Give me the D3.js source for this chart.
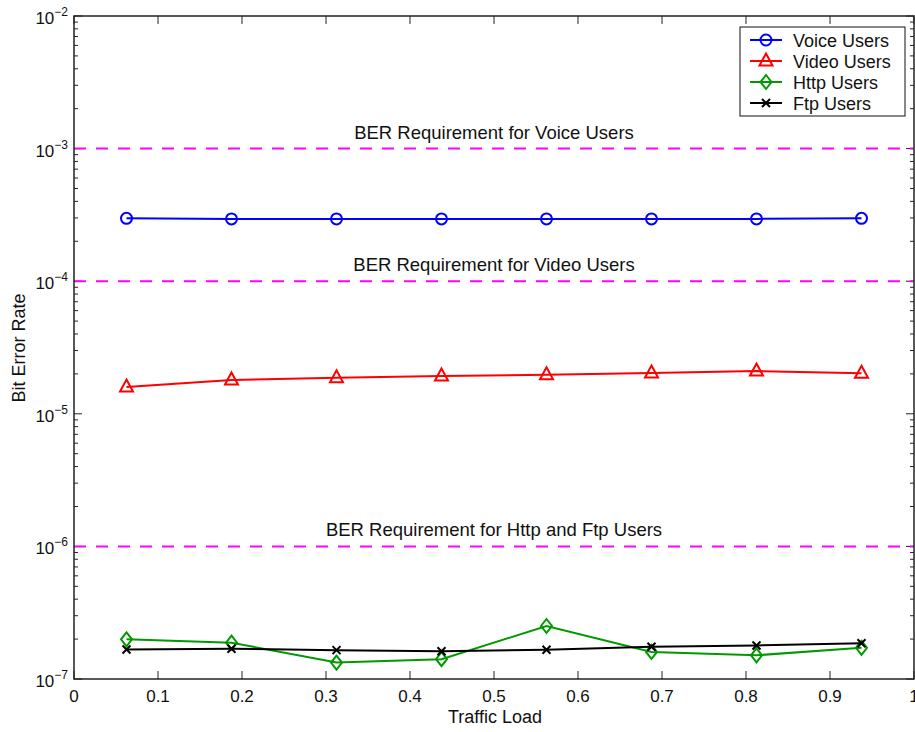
<!DOCTYPE html>
<html>
<head>
<meta charset="utf-8">
<script src="https://cdn.jsdelivr.net/npm/d3@7"></script>
<style>
  html, body { margin: 0; padding: 0; background: #fff; }
  svg { display: block; }
  text { font-family: "Liberation Sans", Arial, Helvetica, sans-serif; fill: #111; }
</style>
</head>
<body>
<svg id="chart" width="915" height="732"></svg>
<script>
// Traffic load sample points
const loads = [0.0625, 0.1875, 0.3125, 0.4375, 0.5625, 0.6875, 0.8125, 0.9375];

// Bit error rate per user class
const voiceBER = [2.98e-4, 2.95e-4, 2.95e-4, 2.95e-4, 2.95e-4, 2.95e-4, 2.95e-4, 2.98e-4];
const videoBER = [1.59e-5, 1.80e-5, 1.87e-5, 1.93e-5, 1.97e-5, 2.03e-5, 2.10e-5, 2.02e-5];
const httpBER  = [1.99e-7, 1.88e-7, 1.33e-7, 1.41e-7, 2.51e-7, 1.60e-7, 1.51e-7, 1.72e-7];
const ftpBER   = [1.67e-7, 1.69e-7, 1.65e-7, 1.62e-7, 1.66e-7, 1.75e-7, 1.79e-7, 1.86e-7];

// Requirement thresholds and their captions
const reqValues = [1e-3, 1e-4, 1e-6];
const reqLabels = [
  "BER Requirement for Voice Users",
  "BER Requirement for Video Users",
  "BER Requirement for Http and Ftp Users"
];

// Axis ticks
const xTicks = [0, 0.1, 0.2, 0.3, 0.4, 0.5, 0.6, 0.7, 0.8, 0.9, 1];
const yExponents = [-2, -3, -4, -5, -6, -7];

const seriesNames = ["Voice Users", "Video Users", "Http Users", "Ftp Users"];
const seriesColors = ["#0000ff", "#ff0000", "#009900", "#000000"];
const seriesMarkers = ["circle", "triangle", "diamond", "cross"];
const seriesData = [voiceBER, videoBER, httpBER, ftpBER];

const svg = d3.select("#chart");
const plotL = 74, plotR = 914, plotT = 16, plotB = 679;

const x = d3.scaleLinear().domain([0, 1]).range([plotL, plotR]);
const y = d3.scaleLog().domain([1e-7, 1e-2]).range([plotB, plotT]);

// Minor log ticks (2..9 in each decade)
const minor = [];
for (let e = -7; e < -2; e++) for (let m = 2; m <= 9; m++) minor.push(m * Math.pow(10, e));

const tickG = svg.append("g").attr("stroke", "#222").attr("stroke-width", 1);
// x ticks, bottom & top, pointing inward
xTicks.forEach(t => {
  tickG.append("line").attr("x1", x(t)).attr("x2", x(t)).attr("y1", plotB).attr("y2", plotB - 8);
  tickG.append("line").attr("x1", x(t)).attr("x2", x(t)).attr("y1", plotT).attr("y2", plotT + 8);
});
// y major ticks
yExponents.forEach(e => {
  const v = Math.pow(10, e);
  tickG.append("line").attr("x1", plotL).attr("x2", plotL + 8).attr("y1", y(v)).attr("y2", y(v));
  tickG.append("line").attr("x1", plotR).attr("x2", plotR - 8).attr("y1", y(v)).attr("y2", y(v));
});
// y minor ticks
minor.forEach(v => {
  tickG.append("line").attr("x1", plotL).attr("x2", plotL + 4).attr("y1", y(v)).attr("y2", y(v));
  tickG.append("line").attr("x1", plotR).attr("x2", plotR - 4).attr("y1", y(v)).attr("y2", y(v));
});

// Requirement lines (dashed magenta) and captions
reqValues.forEach((v, i) => {
  svg.append("line")
    .attr("x1", plotL).attr("x2", plotR)
    .attr("y1", y(v)).attr("y2", y(v))
    .attr("stroke", "#ff00ff").attr("stroke-width", 2)
    .attr("stroke-dasharray", "12,10");
  svg.append("text")
    .attr("x", (plotL + plotR) / 2).attr("y", y(v) - 10)
    .attr("text-anchor", "middle")
    .attr("font-size", 18.5)
    .text(reqLabels[i]);
});

// Marker drawing
function drawMarker(g, type, cx, cy, color) {
  if (type === "circle") {
    g.append("circle").attr("cx", cx).attr("cy", cy).attr("r", 5.5)
      .attr("fill", "none").attr("stroke", color).attr("stroke-width", 2);
  } else if (type === "triangle") {
    g.append("path")
      .attr("d", `M${cx},${cy - 7.5} L${cx + 6.5},${cy + 4.5} L${cx - 6.5},${cy + 4.5} Z`)
      .attr("fill", "none").attr("stroke", color).attr("stroke-width", 2);
  } else if (type === "diamond") {
    g.append("path")
      .attr("d", `M${cx},${cy - 7} L${cx + 5.5},${cy} L${cx},${cy + 7} L${cx - 5.5},${cy} Z`)
      .attr("fill", "none").attr("stroke", color).attr("stroke-width", 2);
  } else {
    g.append("path")
      .attr("d", `M${cx - 4},${cy - 4} L${cx + 4},${cy + 4} M${cx - 4},${cy + 4} L${cx + 4},${cy - 4}`)
      .attr("fill", "none").attr("stroke", color).attr("stroke-width", 2);
  }
}

// Series lines and markers
const line = d3.line().x((d, i) => x(loads[i])).y(d => y(d));
seriesData.forEach((vals, s) => {
  const g = svg.append("g");
  g.append("path").datum(vals).attr("d", line)
    .attr("fill", "none").attr("stroke", seriesColors[s]).attr("stroke-width", 2);
  vals.forEach((v, i) => drawMarker(g, seriesMarkers[s], x(loads[i]), y(v), seriesColors[s]));
});

// Frame
svg.append("rect").attr("x", plotL).attr("y", plotT)
  .attr("width", plotR - plotL).attr("height", plotB - plotT)
  .attr("fill", "none").attr("stroke", "#222").attr("stroke-width", 1.5);

// x tick labels
svg.append("g").selectAll("text").data(xTicks).join("text")
  .attr("x", d => x(d)).attr("y", 702)
  .attr("text-anchor", "middle").attr("font-size", 17)
  .text(d => d3.format("~g")(d));

// y tick labels as 10^e
yExponents.forEach(e => {
  const t = svg.append("text").attr("x", 68).attr("y", y(Math.pow(10, e)) + 8)
    .attr("text-anchor", "end").attr("font-size", 17);
  t.append("tspan").text("10");
  t.append("tspan").attr("dy", -8).attr("font-size", 12).text("\u2212" + Math.abs(e));
});

// Axis titles
svg.append("text").attr("x", (plotL + plotR) / 2 + 1).attr("y", 723)
  .attr("text-anchor", "middle").attr("font-size", 18).text("Traffic Load");
svg.append("text").attr("transform", "translate(25,348) rotate(-90)")
  .attr("text-anchor", "middle").attr("font-size", 18).text("Bit Error Rate");

// Legend
const lg = svg.append("g");
lg.append("rect").attr("x", 740).attr("y", 27).attr("width", 165).attr("height", 89)
  .attr("fill", "#fff").attr("stroke", "#111").attr("stroke-width", 1);
seriesNames.forEach((name, i) => {
  const cy = 40 + i * 21;
  lg.append("line").attr("x1", 750).attr("x2", 782).attr("y1", cy).attr("y2", cy)
    .attr("stroke", seriesColors[i]).attr("stroke-width", 2);
  drawMarker(lg, seriesMarkers[i], 766, cy, seriesColors[i]);
  lg.append("text").attr("x", 793).attr("y", cy + 6.5).attr("font-size", 18).text(name);
});
</script>
</body>
</html>
